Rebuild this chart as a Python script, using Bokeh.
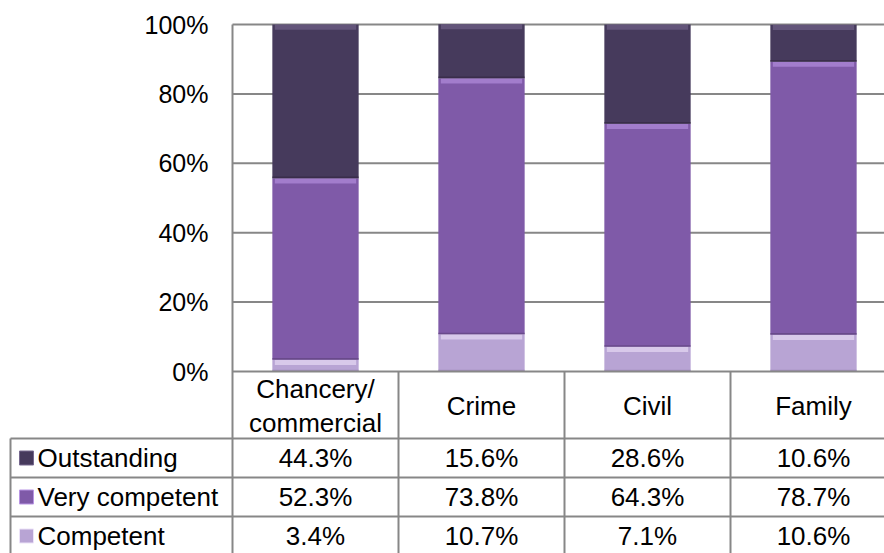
from bokeh.plotting import figure
from bokeh.models import Range1d, ColumnDataSource
from bokeh.core.properties import value
from bokeh.embed import file_html
from bokeh.resources import INLINE

categories = ["Chancery/\ncommercial", "Crime", "Civil", "Family"]
series = ["Outstanding", "Very competent", "Competent"]
outstanding = [44.3, 15.6, 28.6, 10.6]
very_competent = [52.3, 73.8, 64.3, 78.7]
competent = [3.4, 10.7, 7.1, 10.6]
y_ticks = [0, 20, 40, 60, 80, 100]
y_tick_labels = ["0%", "20%", "40%", "60%", "80%", "100%"]

colors = {"Outstanding": "#463a5c", "Very competent": "#7f5aa8", "Competent": "#b8a4d4"}
highlights = {"Outstanding": "#76688e", "Very competent": "#b995e4", "Competent": "#ece3f8"}
shades = {"Outstanding": "#342a45", "Very competent": "#5f437f", "Competent": "#9a86b6"}

FONT = value("Liberation Sans")
AX_FS = "25px"
TAB_FS = "26px"
GRID = "#878787"

W, H = 884, 553
CAT_PX = 166.0          # pixels per category
AXIS_PX = 232.0         # pixel x of value axis
ZERO_PX = 371.0         # pixel y of 0%
PCT_PX = 3.47           # pixels per percent

X_MIN = -AXIS_PX / CAT_PX
X_MAX = (W - AXIS_PX) / CAT_PX
Y_MAX = ZERO_PX / PCT_PX
Y_MIN = -(H - ZERO_PX) / PCT_PX


def px_x(px):
    return (px - AXIS_PX) / CAT_PX


def px_below(dpx):
    # distance in pixels below the 0% line -> data y
    return -dpx / PCT_PX


xs = [i + 0.5 for i in range(len(categories))]

p = figure(width=W, height=H, output_backend="svg", toolbar_location=None,
           x_range=Range1d(X_MIN, X_MAX), y_range=Range1d(Y_MIN, Y_MAX),
           x_axis_type=None, y_axis_type=None,
           min_border_left=0, min_border_right=0, min_border_top=0, min_border_bottom=0)
p.outline_line_color = None
p.xgrid.grid_line_color = None
p.ygrid.grid_line_color = None

# gridlines (0% line is the table's top border)
grid_y = [t for t in y_ticks if t > 0]
p.segment(x0=[0.0] * len(grid_y), y0=grid_y, x1=[X_MAX] * len(grid_y), y1=grid_y,
          line_color=GRID, line_width=2)
# value axis line
p.segment(x0=[0.0], y0=[Y_MIN], x1=[0.0], y1=[100.0], line_color=GRID, line_width=2)
# axis tick labels
p.text(x=[px_x(208.0)] * len(y_ticks), y=y_ticks, text=y_tick_labels,
       text_align="right", text_baseline="middle", text_font=FONT,
       text_font_size=AX_FS, text_color="black")

# stacked bars with a light bevel at the top and a darker edge at the bottom
BAR_W = 0.52
bottoms = [0.0] * 4
stack_order = [("Competent", competent), ("Very competent", very_competent), ("Outstanding", outstanding)]
band = 1.5
edge = 0.5
for name, vals in stack_order:
    tops = [b + v for b, v in zip(bottoms, vals)]
    src = ColumnDataSource(dict(x=xs, bottom=bottoms, top=tops))
    p.vbar(x="x", bottom="bottom", top="top", width=BAR_W, source=src,
           fill_color=colors[name], line_color=None)
    hsrc = ColumnDataSource(dict(x=xs, bottom=[max(b, t - band) for b, t in zip(bottoms, tops)], top=tops))
    p.vbar(x="x", bottom="bottom", top="top", width=BAR_W - 0.03, source=hsrc,
           fill_color=highlights[name], fill_alpha=0.6, line_color=None)
    dsrc = ColumnDataSource(dict(x=xs, bottom=bottoms, top=[min(t, b + edge) for b, t in zip(bottoms, tops)]))
    p.vbar(x="x", bottom="bottom", top="top", width=BAR_W, source=dsrc,
           fill_color=shades[name], fill_alpha=0.7, line_color=None)
    bottoms = tops

# ---------- data table ----------
HEADER_PX = 67.0
ROW_PX = 39.0
row_tops = [px_below(HEADER_PX + i * ROW_PX) for i in range(len(series))]
row_mid = [px_below(HEADER_PX + i * ROW_PX + ROW_PX / 2) for i in range(len(series))]
table_left = px_x(10.0)

hx0 = [0.0] + [table_left] * len(series)
hy = [0.0] + row_tops
p.segment(x0=hx0, y0=hy, x1=[X_MAX] * len(hy), y1=hy, line_color=GRID, line_width=2)
vx = [float(i) for i in range(1, len(categories))] + [table_left]
vy0 = [0.0] * (len(categories) - 1) + [row_tops[0]]
p.segment(x0=vx, y0=vy0, x1=vx, y1=[Y_MIN] * len(vx), line_color=GRID, line_width=2)

p.text(x=xs, y=[px_below(HEADER_PX / 2 + 1)] * 4, text=categories, text_align="center",
       text_baseline="middle", text_font=FONT, text_font_size=TAB_FS,
       text_line_height=1.15, text_color="black")

rows = [outstanding, very_competent, competent]
vx_all, vy_all, vt_all = [], [], []
for r, vals in enumerate(rows):
    for c, v in enumerate(vals):
        vx_all.append(xs[c])
        vy_all.append(row_mid[r])
        vt_all.append(f"{v:.1f}%")
p.text(x=vx_all, y=vy_all, text=vt_all, text_align="center", text_baseline="middle",
       text_font=FONT, text_font_size=TAB_FS, text_color="black")

p.rect(x=[px_x(26.0)] * 3, y=row_mid, width=14, height=14, width_units="screen",
       height_units="screen", fill_color=[colors[s] for s in series],
       line_color=[highlights[s] for s in series], line_width=1)
p.text(x=[px_x(37.0)] * 3, y=row_mid, text=series, text_align="left", text_baseline="middle",
       text_font=FONT, text_font_size=TAB_FS, text_color="black")

open("out.html", "w").write(file_html(p, INLINE))
